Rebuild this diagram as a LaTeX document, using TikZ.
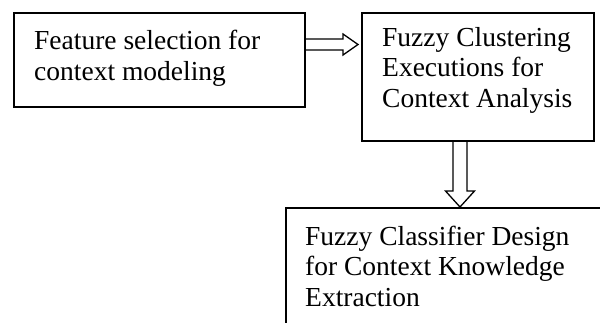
\documentclass[tikz,border=0pt]{standalone}
\usepackage{fontspec}
\setmainfont{Liberation Serif}
\usetikzlibrary{calc}
\begin{document}
\begin{tikzpicture}[x=1pt,y=-1pt,
  box/.style={draw, line width=1.6pt, rectangle, inner sep=0pt, anchor=north west},
  lbl/.style={inner sep=0pt, anchor=base west, align=left,
    font=\fontsize{27.5}{30.5}\selectfont},
  hollow/.style={draw, line width=1.3pt, line join=miter}]
  \useasboundingbox (0,0) rectangle (600,322);
  \begin{scope}
    \clip (0,0) rectangle (600,322);
    % process boxes
    \node[box, minimum width=291pt, minimum height=94pt] (feat) at (13,12) {};
    \node[box, minimum width=232pt, minimum height=128pt] (clus) at (361,12) {};
    \node[box, minimum width=340pt, minimum height=200pt] (clas) at (285,207) {};
  \end{scope}
  % box texts (anchored at the baseline of their last line)
  \node[lbl] (featT) at ($(feat.north west)+(21,68)$) {Feature selection for\\context modeling};
  \node[lbl] (clusT) at ($(clus.north west)+(21,95)$) {Fuzzy Clustering\\Executions for\\Context Analysis};
  \node[lbl] (clasT) at ($(clas.north west)+(20,99)$) {Fuzzy Classifier Design\\for Context Knowledge\\Extraction};
  % hollow arrow: feature selection -> clustering
  \coordinate (hA) at ($(feat.north east)+(0,32.5)$);
  \coordinate (hB) at ($(clus.north west)+(-3,32.5)$);
  \draw[hollow] ($(hA)+(0,-5.5)$) -- ($(hB)+(-15,-5.5)$) -- ($(hB)+(-15,-10.5)$)
    -- (hB) -- ($(hB)+(-15,10.5)$) -- ($(hB)+(-15,5.5)$) -- ($(hA)+(0,5.5)$);
  % hollow arrow: clustering -> classifier
  \coordinate (vA) at ($(clus.south west)+(99,0)$);
  \coordinate (vB) at (vA |- clas.north);
  \draw[hollow] ($(vA)+(-7,0)$) -- ($(vB)+(-7,-16)$) -- ($(vB)+(-14.5,-16)$)
    -- (vB) -- ($(vB)+(14.5,-16)$) -- ($(vB)+(7,-16)$) -- ($(vA)+(7,0)$);
\end{tikzpicture}
\end{document}
